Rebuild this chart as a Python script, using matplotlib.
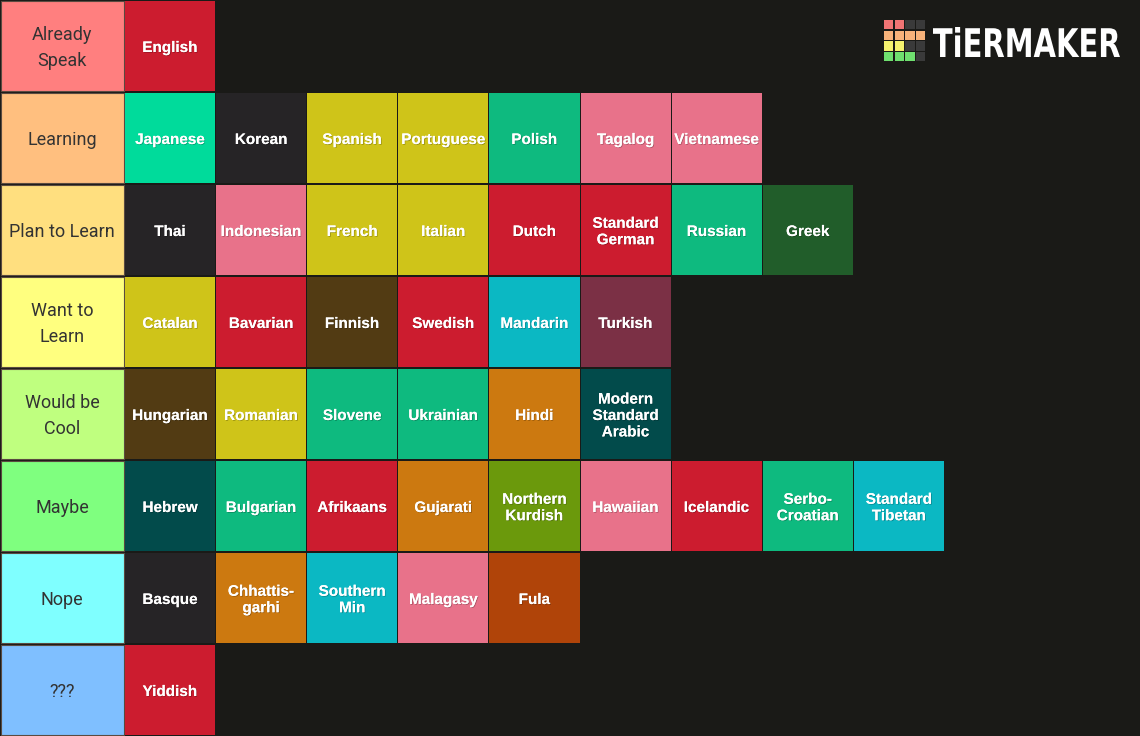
import matplotlib.pyplot as plt
import matplotlib.patheffects as pe
from matplotlib.patches import Rectangle, PathPatch
from matplotlib.textpath import TextPath
from matplotlib.font_manager import FontProperties
from matplotlib.transforms import Affine2D

# tiers
tiers = ["Already\nSpeak", "Learning", "Plan to Learn", "Want to\nLearn",
         "Would be\nCool", "Maybe", "Nope", "???"]
tier_colors = ["#ff7f7f", "#ffbf7f", "#ffdf7f", "#ffff7f",
               "#bfff7f", "#7fff7f", "#7fffff", "#7fbfff"]

# item colours
red = "#cc1c2f"
mint = "#00db9b"
dark = "#262426"
yellow = "#cfc419"
green = "#0eba7f"
pink = "#e8728a"
darkgreen = "#215d2a"
brown = "#523b13"
cyan = "#0bb8c3"
wine = "#7b3045"
orange = "#cc7910"
teal = "#024b4b"
olive = "#6b990c"
rust = "#b04409"

items = [
    ["English"],
    ["Japanese", "Korean", "Spanish", "Portuguese", "Polish", "Tagalog", "Vietnamese"],
    ["Thai", "Indonesian", "French", "Italian", "Dutch", "Standard\nGerman", "Russian", "Greek"],
    ["Catalan", "Bavarian", "Finnish", "Swedish", "Mandarin", "Turkish"],
    ["Hungarian", "Romanian", "Slovene", "Ukrainian", "Hindi", "Modern\nStandard\nArabic"],
    ["Hebrew", "Bulgarian", "Afrikaans", "Gujarati", "Northern\nKurdish", "Hawaiian",
     "Icelandic", "Serbo-\nCroatian", "Standard\nTibetan"],
    ["Basque", "Chhattis-\ngarhi", "Southern\nMin", "Malagasy", "Fula"],
    ["Yiddish"],
]
item_colors = [
    [red],
    [mint, dark, yellow, yellow, green, pink, pink],
    [dark, pink, yellow, yellow, red, red, green, darkgreen],
    [yellow, red, brown, red, cyan, wine],
    [brown, yellow, green, green, orange, teal],
    [teal, green, red, orange, olive, pink, red, green, cyan],
    [dark, orange, cyan, pink, rust],
    [red],
]

logo_colors = [
    ["#f07474", "#f07474", "#3a3a3a", "#3a3a3a"],
    ["#f7b27a", "#f7b27a", "#f7b27a", "#f7b27a"],
    ["#f5f26e", "#f5f26e", "#3a3a3a", "#3a3a3a"],
    ["#6fe06f", "#6fe06f", "#6fe06f", "#3a3a3a"],
]

W, H = 1140, 736
row_h = H / len(tiers)
label_w = 124
cell_w = 91.1

fig = plt.figure(figsize=(11.4, 7.36), dpi=100)
fig.patch.set_facecolor("#1a1a17")
ax = fig.add_axes([0, 0, 1, 1])
ax.set_xlim(0, W)
ax.set_ylim(H, 0)
ax.axis("off")

shadow = [pe.withSimplePatchShadow(offset=(0.6, -0.6), shadow_rgbFace="black", alpha=0.25),
          pe.Normal()]

for i, (tier, tc) in enumerate(zip(tiers, tier_colors)):
    y0 = i * row_h + 1
    yc = y0 + (row_h - 2) / 2
    ax.add_patch(Rectangle((0.5, y0), label_w - 0.5, row_h - 2, facecolor=tc,
                           edgecolor="#5a4a40", linewidth=0.8))
    ax.text(label_w / 2, yc + 2, tier, ha="center", va="center",
            fontsize=13, family="Roboto", color="#333333", linespacing=1.55)
    for k, (name, c) in enumerate(zip(items[i], item_colors[i])):
        x0 = label_w + 1 + k * cell_w
        ax.add_patch(Rectangle((x0, y0), cell_w - 1, row_h - 2, facecolor=c,
                               edgecolor="none"))
        t = ax.text(x0 + (cell_w - 1) / 2, yc + 2, name,
                    ha="center", va="center", fontsize=11, fontweight="bold",
                    family="Liberation Sans", color="white", linespacing=1.22)
        t.set_path_effects(shadow)

# logo
sq, gap = 9.2, 1.5
lx, ly = 884, 20
for r, row in enumerate(logo_colors):
    for c, col in enumerate(row):
        ax.add_patch(Rectangle((lx + c * (sq + gap), ly + r * (sq + gap)), sq, sq,
                               facecolor=col, edgecolor="none"))

tp = TextPath((0, 0), "TiERMAKER", size=100,
              prop=FontProperties(family="DejaVu Sans", weight="bold"))
ext = tp.get_extents()
tx0, tx1, ty0, ty1 = 933, 1120, 27, 57
sx = (tx1 - tx0) / ext.width
sy = (ty1 - ty0) / ext.height
tr = Affine2D().translate(-ext.x0, -ext.y0).scale(sx, -sy).translate(tx0, ty1) + ax.transData
ax.add_patch(PathPatch(tp, facecolor="white", edgecolor="none", transform=tr))

fig.savefig("out.png", dpi=100, facecolor=fig.get_facecolor())
